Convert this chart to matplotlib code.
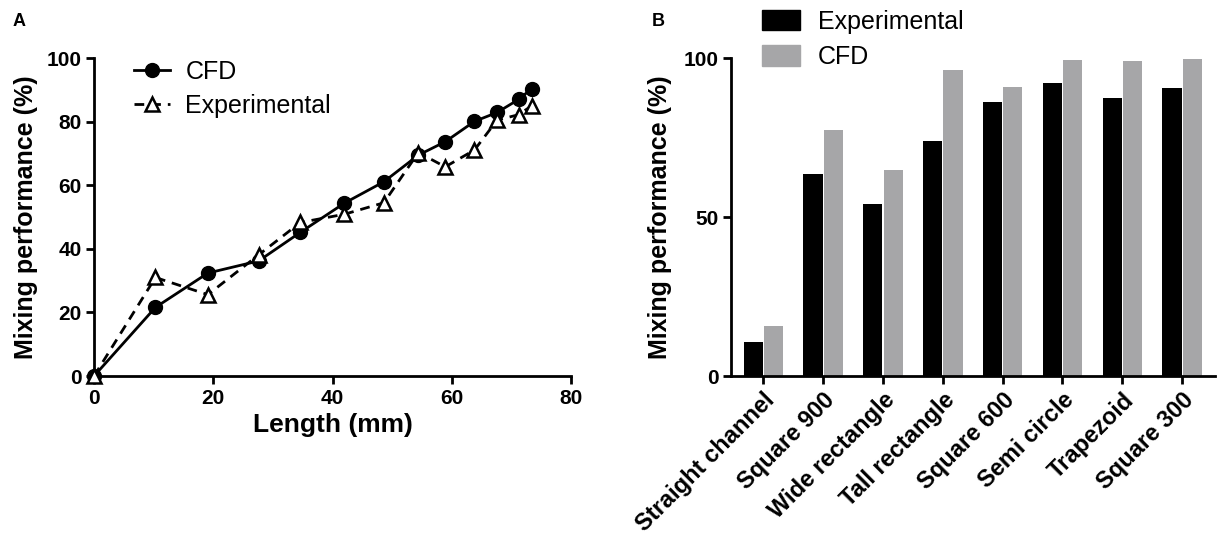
import matplotlib
matplotlib.use("Agg")
import matplotlib.pyplot as plt
import matplotlib.patches as mpatches
import numpy as np

plt.rcParams['font.family'] = ['Liberation Sans', 'DejaVu Sans']

# panel A data
length_cfd = [0, 10.3, 19.1, 27.6, 34.6, 42.0, 48.6, 54.4, 58.9, 63.8, 67.6, 71.2, 73.4]
mix_cfd = [0, 21.6, 32.4, 36.2, 45.2, 54.4, 61.1, 69.5, 73.7, 80.1, 82.9, 87.0, 90.4]
length_exp = [0, 10.3, 19.1, 27.6, 34.6, 42.0, 48.6, 54.4, 58.9, 63.8, 67.6, 71.2, 73.4]
mix_exp = [0, 31.0, 25.6, 38.1, 48.3, 50.9, 54.5, 70.3, 65.8, 71.1, 80.5, 82.2, 85.0]

# panel B data
geometries = ['Straight channel', 'Square 900', 'Wide rectangle', 'Tall rectangle',
              'Square 600', 'Semi circle', 'Trapezoid', 'Square 300']
bar_exp = [10.6, 63.4, 54.1, 73.8, 86.2, 92.3, 87.3, 90.7]
bar_cfd = [15.8, 77.3, 64.7, 96.4, 90.8, 99.5, 99.1, 99.7]

fig = plt.figure(figsize=(12.21, 5.38), dpi=100)

# ---- A ----
ax1 = fig.add_axes([0.077, 0.301, 0.3907, 0.591])
ax1.plot(length_cfd, mix_cfd, '-', color='black', lw=2, marker='o', ms=10,
         mfc='black', mec='black', label='CFD', clip_on=False, zorder=3)
ax1.plot(length_exp, mix_exp, '--', color='black', lw=2, dashes=(3.5, 2.5), marker='^', ms=10,
         mfc='white', mec='black', mew=1.8, label='Experimental', clip_on=False, zorder=4)
ax1.set_xlim(0, 80)
ax1.set_ylim(0, 100)
ax1.set_xticks([0, 20, 40, 60, 80])
ax1.set_yticks([0, 20, 40, 60, 80, 100])
ax1.set_xlabel('Length (mm)', fontsize=19, fontweight='bold', labelpad=4)
ax1.set_ylabel('Mixing performance (%)', fontsize=18, fontweight='bold', labelpad=6)
ax1.legend(loc='upper left', bbox_to_anchor=(0.084, 0.995), frameon=False, fontsize=18,
           handlelength=1.45, labelspacing=0.4, handletextpad=0.6,
           borderpad=0, borderaxespad=0)

# ---- B ----
ax2 = fig.add_axes([0.5987, 0.301, 0.3964, 0.591])
x = np.arange(len(geometries))
w = 0.32
ax2.bar(x - 0.17, bar_exp, width=w, color='black', label='Experimental')
ax2.bar(x + 0.17, bar_cfd, width=w, color='#a6a6a8', label='CFD')
ax2.set_xlim(-0.54, 7.55)
ax2.set_ylim(0, 100)
ax2.set_yticks([0, 50, 100])
ax2.set_xticks(x)
ax2.set_xticklabels(geometries, rotation=45, ha='right', rotation_mode='anchor')
ax2.set_ylabel('Mixing performance (%)', fontsize=18, fontweight='bold', labelpad=8)
handles = [mpatches.Patch(color='black'), mpatches.Patch(color='#a6a6a8')]
fig.legend(handles, ['Experimental', 'CFD'], loc='upper left', bbox_to_anchor=(0.624, 0.982),
           frameon=False, fontsize=18, handlelength=1.52, handleheight=0.9,
           labelspacing=0.45, handletextpad=0.72, borderpad=0, borderaxespad=0)

for ax in (ax1, ax2):
    for s in ('top', 'right'):
        ax.spines[s].set_visible(False)
    for s in ('left', 'bottom'):
        ax.spines[s].set_linewidth(2)
    ax.tick_params(width=2, length=6, labelsize=15, direction='out', pad=3)
    for lab in ax.get_xticklabels() + ax.get_yticklabels():
        lab.set_fontweight('bold')
ax2.tick_params(axis='x', labelsize=17)

fig.text(0.010, 0.975, 'A', fontsize=13, fontweight='bold', va='top')
fig.text(0.534, 0.975, 'B', fontsize=13, fontweight='bold', va='top')

fig.savefig('out.png', dpi=100)
